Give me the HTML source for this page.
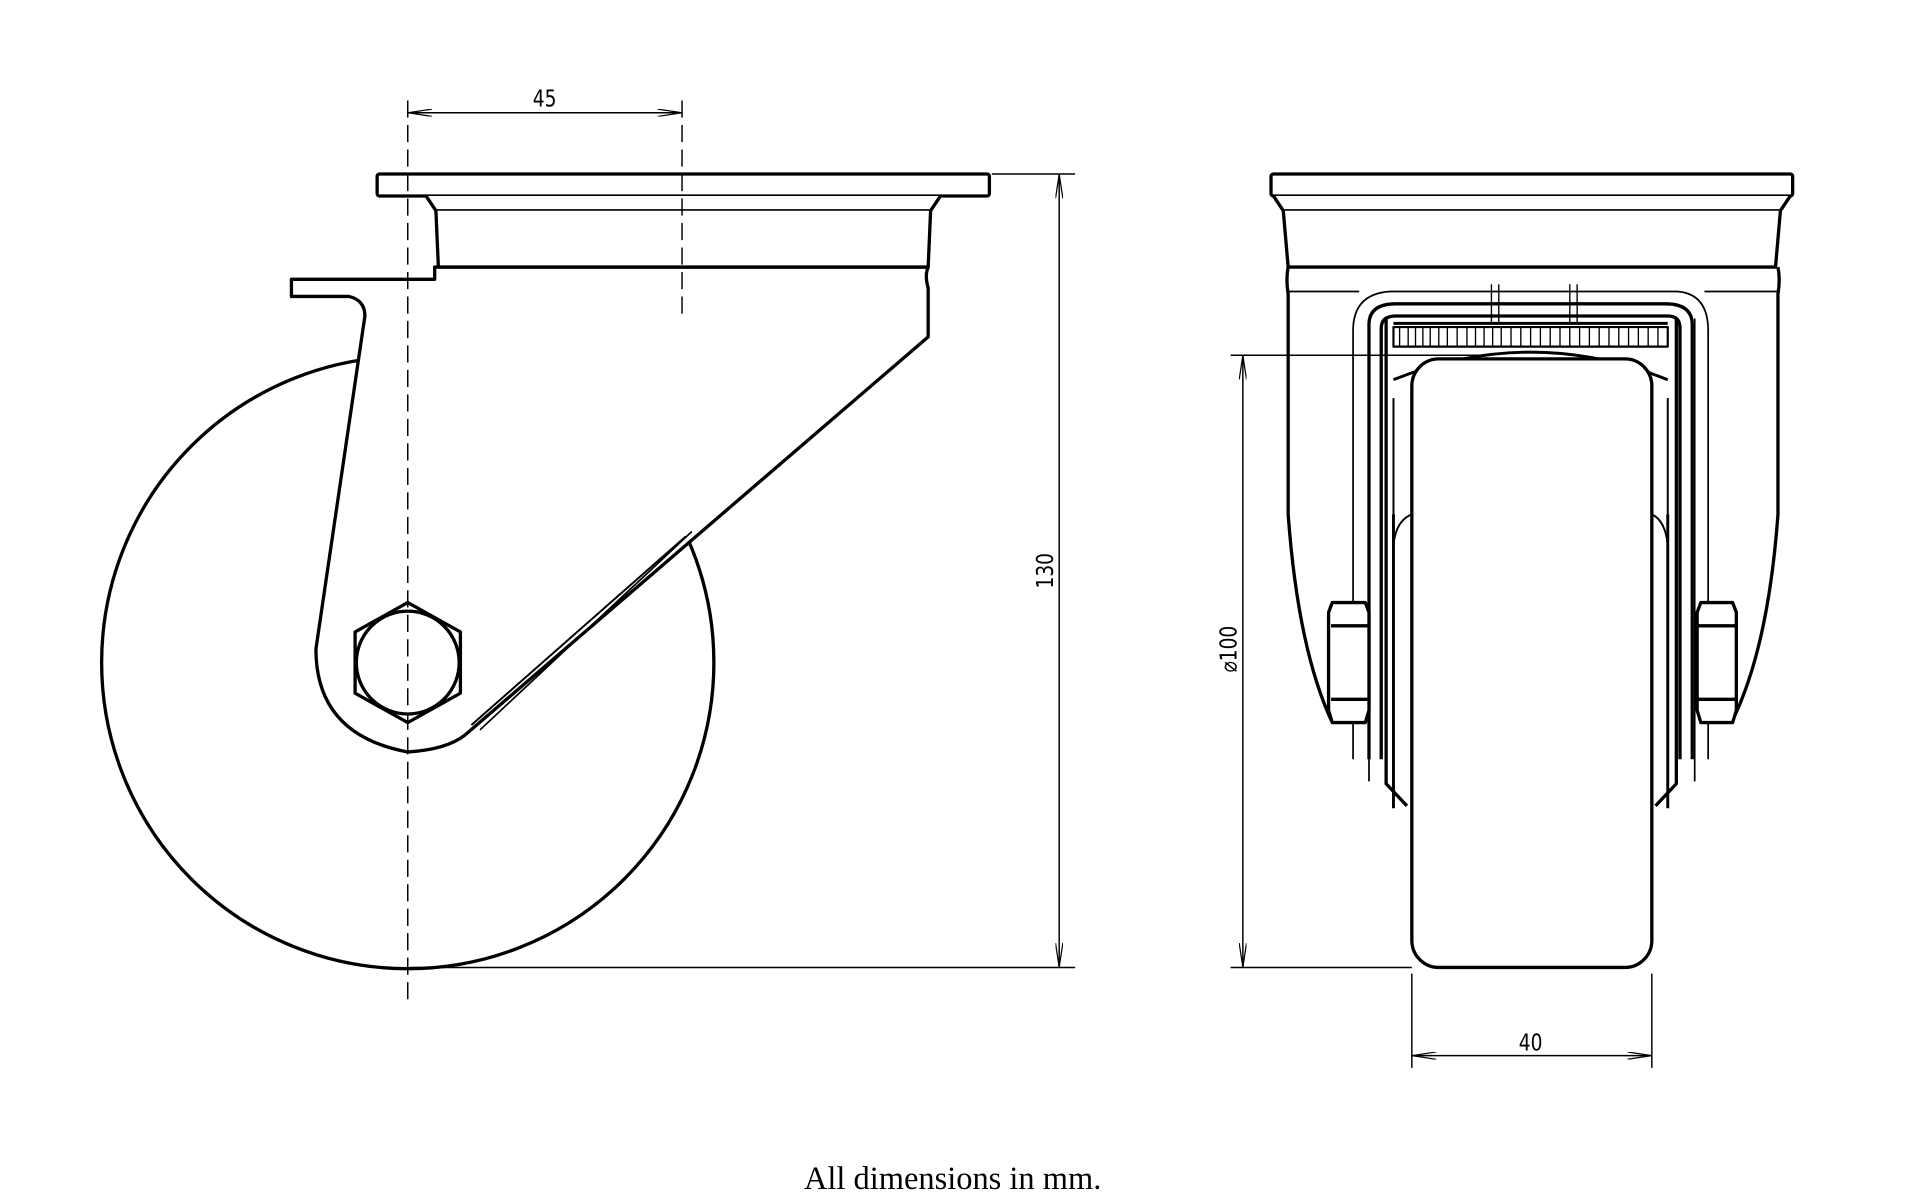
<!DOCTYPE html>
<html><head><meta charset="utf-8"><style>
html,body{margin:0;padding:0;background:#fff;width:1920px;height:1199px;overflow:hidden}
svg{display:block}
text{font-family:"DejaVu Sans","Liberation Sans",sans-serif}
</style></head><body>
<svg width="1920" height="1199" viewBox="0 0 1568 979" xmlns="http://www.w3.org/2000/svg">
<defs>
<marker id="a" viewBox="0 0 20 6" refX="20" refY="3" markerWidth="20" markerHeight="6" orient="auto-start-reverse" markerUnits="userSpaceOnUse"><path d="M0,0 L20,3 L0,6" fill="none" stroke="#000" stroke-width="1"/></marker>
</defs>
<g fill="none" stroke="#000" stroke-width="2.7" stroke-linejoin="round">
<circle cx="333" cy="541" r="250" fill="#fff"/>
<path d="M355,218 L355,228 L238,228 L238,242 L285,242 Q298,245 298,258 L258,530 Q258,600 333,614 Q365,612 380,600 L758,275 L758,235 Q755,225 758,218 Z" fill="#fff"/>
<path d="M560,438 L385,592" stroke-width="1.6"/>
<path d="M565,434 L392,596" stroke-width="1.4"/>
<rect x="308" y="142" width="500" height="18" rx="2" fill="#fff"/>
<path d="M348,160 L356,172 L760,172 L768,160" fill="#fff"/>
<path d="M356,172 L358,218 L758,218 L760,172" fill="#fff"/>
<polygon points="333,492 376,516 376,566 333,590 290,566 290,516" fill="#fff"/>
<circle cx="333" cy="541" r="42"/>
<path d="M1052,218 Q1050,228 1052,240 L1052,420 Q1060,530 1088,590 M1452,218 Q1454,228 1452,240 L1452,420 Q1444,530 1414,590"/>
<path d="M1052,238 L1110,238 M1392,238 L1452,238" stroke-width="1.4"/>
<path d="M1105,620 L1105,270 Q1105,240 1135,238 L1370,238 Q1395,240 1395,270 L1395,620" stroke-width="1.4"/>
<path d="M1118,620 L1118,265 Q1118,248 1140,248 L1360,248 Q1382,248 1382,265 L1382,620"/>
<path d="M1128,620 L1128,268 Q1128,258 1140,258 L1362,258 Q1372,258 1372,268 L1372,620"/>
<path d="M1118,638 L1118,260 M1384,638 L1384,260" stroke-width="1.4"/>
<path d="M1132,260 L1132,640 L1149,658 M1369,260 L1369,640 L1352,658"/>
<path d="M1138,264 L1362,264" stroke-width="2.4"/>
<path d="M1138,267 L1362,267 L1362,283 L1138,283 Z" stroke-width="1.8"/>
<g stroke-width="1.1">
<path d="M1143,267V283M1150,267V283M1156,267V283M1162,267V283M1168,267V283M1175,267V283M1182,267V283M1190,267V283M1198,267V283M1205,267V283M1212,267V283M1219,267V283M1226,267V283M1234,267V283M1242,267V283M1250,267V283M1258,267V283M1266,267V283M1274,267V283M1282,267V283M1290,267V283M1298,267V283M1306,267V283M1314,267V283M1322,267V283M1330,267V283M1338,267V283M1346,267V283M1354,267V283"/>
<path d="M1218,232V264M1224,232V264M1282,232V264M1288,232V264"/>
</g>
<path d="M1138,310 Q1250,265 1362,310" stroke-width="2.4"/>
<path d="M1138,325 L1138,445 Q1140,425 1153,420 M1362,325 L1362,445 Q1360,425 1349,420" stroke-width="1.6"/>
<path d="M1138,420 L1138,660 M1362,420 L1362,660" stroke-width="2.4"/>
<rect x="1153" y="293" width="196" height="497" rx="22" fill="#fff"/>
<rect x="1038" y="142" width="426" height="18" rx="2" fill="#fff"/>
<path d="M1040,160 L1048,172 L1454,172 L1462,160" fill="#fff"/>
<path d="M1048,172 L1052,218 L1450,218 L1454,172" fill="#fff"/>
<g fill="#fff">
<path d="M1088,492 L1115,492 L1118,500 L1118,580 L1115,590 L1088,590 L1085,580 L1085,500 Z"/>
<path d="M1087,511 L1118,511 M1087,571 L1118,571"/>
<path d="M1389,492 L1415,492 L1418,500 L1418,580 L1415,590 L1389,590 L1386,580 L1386,500 Z"/>
<path d="M1386,511 L1417,511 M1386,571 L1417,571"/>
</g>
</g>
<g fill="none" stroke="#000" stroke-width="1.2">
<path d="M333,82 L333,818" stroke-dasharray="14,6"/>
<path d="M557,82 L557,258" stroke-dasharray="14,6"/>
<path d="M333,92 L557,92" marker-start="url(#a)" marker-end="url(#a)"/>
<path d="M810,142 L878,142 M335,790 L878,790"/>
<path d="M865,142 L865,790" marker-start="url(#a)" marker-end="url(#a)"/>
<path d="M1005,290 L1210,290 M1005,790 L1153,790"/>
<path d="M1015,290 L1015,790" marker-start="url(#a)" marker-end="url(#a)"/>
<path d="M1153,795 L1153,872 M1349,795 L1349,872"/>
<path d="M1153,862 L1349,862" marker-start="url(#a)" marker-end="url(#a)"/>
</g>
<g font-size="19" fill="#000">
<text x="445" y="87" text-anchor="middle" transform="scale(0.8,1) translate(111,0)">45</text>
<text transform="translate(860,466) rotate(-90) scale(0.8,1)" text-anchor="middle">130</text>
<text transform="translate(1010,530) rotate(-90) scale(0.8,1)" text-anchor="middle">⌀100</text>
<text x="1250" y="858" text-anchor="middle" transform="translate(250,0) scale(0.8,1)">40</text>
</g>
<text x="778" y="971" text-anchor="middle" font-size="26.5" style="font-family:'Liberation Serif',serif">All dimensions in mm.</text>
</svg>
</body></html>
